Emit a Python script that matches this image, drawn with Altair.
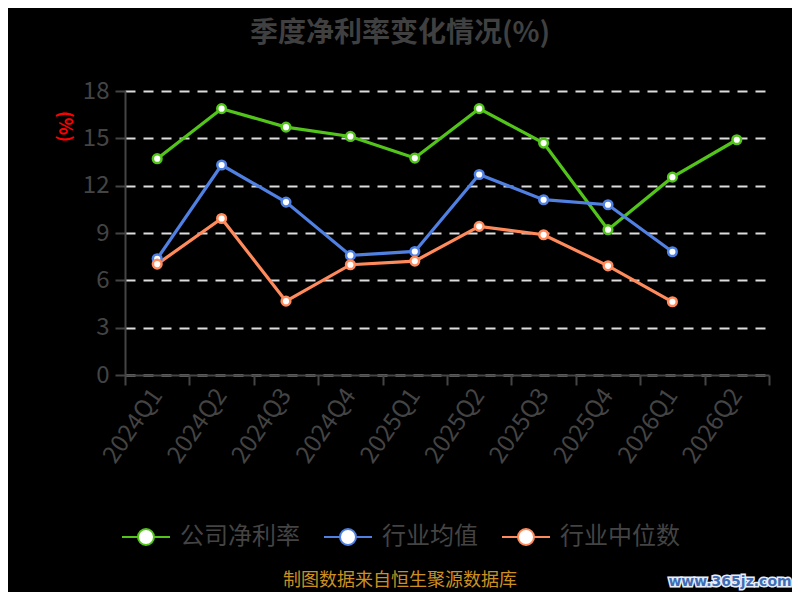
import altair as alt
import pandas as pd

quarters = ["2024Q1", "2024Q2", "2024Q3", "2024Q4", "2025Q1",
            "2025Q2", "2025Q3", "2025Q4", "2026Q1", "2026Q2"]
company = [13.71, 16.88, 15.71, 15.12, 13.75, 16.88, 14.70, 9.21, 12.54, 14.91]
industry_avg = [7.37, 13.31, 10.96, 7.58, 7.83, 12.71, 11.11, 10.79, 7.81]
industry_med = [7.03, 9.92, 4.68, 6.99, 7.22, 9.42, 8.89, 6.92, 4.64]

series_names = ["公司净利率", "行业均值", "行业中位数"]
series_colors = ["#52c41a", "#4f80e2", "#ff8a5b"]
y_ticks = [0, 3, 6, 9, 12, 15, 18]

rows = []
for name, vals in zip(series_names, [company, industry_avg, industry_med]):
    for q, v in zip(quarters, vals):
        rows.append({"quarter": q, "value": v, "series": name})
df = pd.DataFrame(rows)

FONT = "Noto Sans CJK SC"
GRAY = "#444444"

x_enc = alt.X("quarter:N", sort=quarters, bandPosition=0.5,
              scale=alt.Scale(type="band", domain=quarters, paddingInner=0, paddingOuter=0),
              axis=alt.Axis(title=None, labelAngle=305, labelFontSize=24, labelColor=GRAY,
                            labelFont=FONT, labelPadding=6, tickBand="extent",
                            tickSize=10, tickColor=GRAY, tickWidth=2,
                            domainColor=GRAY, domainWidth=2, zindex=1,
                            labelAlign="right", labelBaseline="middle"))
y_enc = alt.Y("value:Q", scale=alt.Scale(domain=[0, 18], nice=False),
              axis=alt.Axis(values=y_ticks, title="(%)", titleAngle=90, titleColor="red",
                            titleFontSize=18, titleFont=FONT, titleFontWeight="bold",
                            titleX=-62, titleY=35, titleAlign="center", titleBaseline="middle",
                            labelFontSize=24, labelColor=GRAY, labelFont=FONT, labelPadding=6,
                            tickSize=10, tickColor=GRAY, tickWidth=2,
                            domainColor=GRAY, domainWidth=2,
                            grid=True, gridColor="#dddddd", gridDash=[10, 8], gridWidth=2))

legend_symbol = "M-3,0L-1,0M1,0L3,0M1,0A1,1 0 1,1 -1,0A1,1 0 1,1 1,0Z"

lines = alt.Chart(df).mark_line(strokeWidth=3.2).encode(
    x=x_enc, y=y_enc,
    color=alt.Color("series:N", sort=series_names,
                    scale=alt.Scale(domain=series_names, range=series_colors),
                    legend=alt.Legend(title=None, orient="none", direction="horizontal",
                                      legendX=9, legendY=434,
                                      symbolType=legend_symbol, symbolSize=256,
                                      symbolStrokeWidth=2, symbolFillColor="white",
                                      labelFontSize=24, labelColor=GRAY, labelFont=FONT,
                                      labelOffset=22, columnPadding=20, labelLimit=300)),
)

points = alt.Chart(df).mark_point(filled=True, fill="white", size=75, strokeWidth=2.5, opacity=1).encode(
    x=alt.X("quarter:N", sort=quarters, bandPosition=0.5),
    y="value:Q",
    stroke=alt.Stroke("series:N", scale=alt.Scale(domain=series_names, range=series_colors), legend=None),
)

title_df = pd.DataFrame({"t": ["季度净利率变化情况(%)"]})
title = alt.Chart(title_df).mark_text(font=FONT, fontSize=28, fontWeight="bold", color="#404040",
                                      align="center", baseline="middle").encode(
    text="t:N", x=alt.value(275), y=alt.value(-57))

source_df = pd.DataFrame({"t": ["制图数据来自恒生聚源数据库"]})
source = alt.Chart(source_df).mark_text(font=FONT, fontSize=18, color="#cc9020",
                                        align="center", baseline="middle").encode(
    text="t:N", x=alt.value(275), y=alt.value(490))

wm_df = pd.DataFrame({"t": ["www.365jz.com"]})
wm_outline = alt.Chart(wm_df).mark_text(font="DejaVu Sans", fontSize=14, fontWeight="bold",
                                        fill="#e8eef8", stroke="#e8eef8", strokeWidth=3,
                                        align="center", baseline="middle").encode(
    text="t:N", x=alt.value(605), y=alt.value(491))
wm = alt.Chart(wm_df).mark_text(font="DejaVu Sans", fontSize=14, fontWeight="bold", color="#3f6db5",
                                align="center", baseline="middle").encode(
    text="t:N", x=alt.value(605), y=alt.value(491))

chart = alt.layer(lines, points, title, source, wm_outline, wm).resolve_scale(
    color="independent", stroke="independent"
).properties(
    width=644, height=284,
    autosize=alt.AutoSizeParams(type="none"),
    padding={"left": 117, "top": 83, "right": 23, "bottom": 217},
    background="black",
).configure_view(stroke=None)

chart.save("out.html", embed_options={"renderer": "svg", "actions": False})
